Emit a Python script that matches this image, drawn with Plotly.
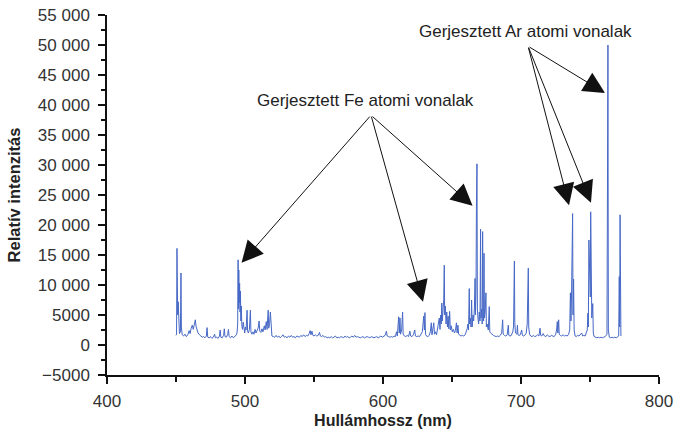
import plotly.graph_objects as go

# Spectrum data (wavelength in nm, relative intensity)
wavelength_nm = [
    450.0, 450.4, 450.7, 450.9, 451.2, 451.6, 452.0, 452.5, 453.2, 453.6, 453.9, 454.5,
    455.5, 456.5, 457.5, 458.5, 459.5, 460.2, 461.0, 461.8, 462.5, 463.3, 464.0, 464.6,
    465.3, 466.0, 467.0, 468.0, 469.0, 470.0, 471.0, 472.0, 472.5, 473.0, 474.0, 475.0,
    476.0, 477.0, 478.0, 478.5, 479.5, 480.5, 481.5, 482.0, 482.5, 483.5, 484.5, 485.0,
    485.5, 486.5, 487.5, 488.0, 488.5, 489.5, 490.5, 491.5, 492.5, 493.5, 494.2, 494.7,
    495.0, 495.2, 495.5, 495.8, 496.1, 496.4, 496.7, 497.0, 497.3, 497.7, 498.2, 498.7,
    499.2, 499.8, 500.3, 500.8, 501.5, 501.9, 502.5, 503.2, 503.9, 504.3, 505.0, 505.8,
    506.5, 507.3, 508.0, 508.8, 509.5, 510.2, 510.7, 511.5, 512.3, 513.0, 514.0, 514.6,
    515.4, 516.0, 516.8, 517.2, 517.8, 518.4, 518.9, 519.5, 520.5, 521.5, 522.5, 523.5,
    524.5, 525.5, 526.5, 527.5, 528.5, 529.5, 530.5, 531.5, 532.5, 533.5, 534.5, 535.5,
    536.5, 537.5, 538.5, 539.5, 540.5, 541.5, 542.5, 543.5, 544.5, 545.5, 546.5, 547.2,
    547.8, 548.5, 549.2, 550.0, 551.0, 552.0, 553.0, 554.0, 554.6, 555.5, 556.5, 557.5,
    558.5, 559.5, 560.5, 561.5, 562.5, 563.5, 564.5, 565.5, 566.5, 567.5, 568.5, 569.5,
    570.5, 571.5, 572.5, 573.5, 574.5, 575.5, 576.5, 577.5, 578.5, 579.5, 580.5, 581.5,
    582.5, 583.5, 584.5, 585.5, 586.5, 587.5, 588.5, 589.5, 590.5, 591.5, 592.5, 593.5,
    594.5, 595.5, 596.5, 597.5, 598.5, 599.5, 600.5, 601.5, 602.5, 603.0, 604.0, 605.0,
    606.0, 607.0, 608.0, 609.0, 609.8, 610.4, 611.0, 611.4, 611.8, 612.3, 612.7, 613.5,
    614.2, 614.6, 615.5, 616.5, 617.5, 618.5, 619.5, 620.0, 621.0, 622.0, 623.0, 623.5,
    624.5, 625.5, 626.5, 627.5, 628.5, 629.0, 629.5, 630.0, 630.4, 630.8, 631.5, 632.5,
    633.5, 634.3, 635.0, 635.5, 636.2, 636.8, 637.3, 638.0, 638.8, 639.5, 640.2, 640.8,
    641.3, 641.8, 642.3, 642.6, 643.0, 643.5, 644.0, 644.4, 644.7, 645.2, 645.7, 646.2,
    646.7, 647.2, 647.7, 648.3, 648.8, 649.5, 650.2, 651.0, 651.8, 652.5, 653.2, 653.7,
    654.3, 654.8, 655.5, 656.5, 657.5, 658.5, 659.5, 660.3, 661.0, 661.6, 662.0, 662.5,
    662.8, 663.3, 663.8, 664.2, 664.6, 665.2, 665.7, 666.2, 666.7, 667.0, 667.4, 667.7,
    667.9, 668.1, 668.4, 668.8, 669.3, 669.8, 670.3, 670.7, 671.0, 671.5, 671.9, 672.2,
    672.5, 672.9, 673.2, 673.5, 674.0, 674.6, 674.9, 675.5, 676.3, 677.0, 677.4, 678.0,
    679.0, 680.0, 681.0, 682.0, 683.0, 684.0, 685.0, 686.0, 686.7, 687.1, 688.0, 689.0,
    690.0, 690.8, 691.2, 692.0, 693.0, 694.0, 694.6, 695.0, 695.2, 695.5, 696.0, 697.0,
    697.4, 697.8, 698.5, 699.5, 700.5, 701.0, 702.0, 703.0, 703.8, 704.5, 705.0, 705.3,
    705.6, 706.2, 707.0, 708.0, 709.0, 710.0, 711.0, 712.0, 713.0, 713.8, 714.3, 715.0,
    716.0, 717.0, 718.0, 719.0, 720.0, 721.0, 722.0, 723.0, 724.0, 725.0, 725.8, 726.3,
    726.7, 727.3, 727.7, 728.5, 729.5, 730.5, 731.5, 732.5, 733.5, 734.5, 735.3, 735.8,
    736.2, 736.6, 737.0, 737.4, 737.7, 738.1, 738.5, 739.2, 740.0, 741.0, 742.0, 743.0,
    744.0, 744.6, 745.5, 746.5, 747.3, 748.0, 748.5, 748.8, 749.2, 749.5, 749.8, 750.2,
    750.5, 750.8, 751.3, 752.0, 752.4, 753.0, 754.0, 755.0, 756.0, 757.0, 758.0, 759.0,
    760.0, 761.0, 762.3, 762.7, 763.0, 763.3, 764.0, 765.0, 766.0, 767.0, 768.0, 769.0,
    770.0, 770.8, 771.2, 771.5, 771.8, 772.1, 772.4,
]

intensity = [
    1600, 1800, 16100, 7500, 5000, 7200, 2500, 1900, 2200, 12000, 3000, 1700,
    1500, 1800, 1400, 1700, 2400, 1900, 2800, 3300, 2600, 3800, 4200, 3000,
    2500, 2000, 1700, 1500, 1300, 1400, 1200, 1500, 2900, 1300, 1200, 1400,
    1100, 1300, 1800, 1200, 1300, 1100, 1500, 2500, 1300, 1200, 1600, 2700,
    1400, 1300, 1800, 2600, 1400, 1200, 1500, 1200, 1400, 1600, 2000, 3500,
    14200, 6000, 12500, 7000, 10300, 5500, 9000, 4000, 6500, 3200, 2600, 3800,
    2200, 2000, 3000, 2500, 5800, 2300, 2000, 2600, 5800, 2200, 1800, 2200,
    1800, 2600, 2000, 2400, 2800, 4000, 2300, 2100, 2700, 2200, 3200, 2500,
    3900, 2600, 5800, 2800, 3600, 5500, 2000, 1500, 1400, 1300, 1600, 1300,
    1500, 1200, 1400, 1700, 1300, 1400, 1200, 1500, 1300, 1600, 1300, 1400,
    1200, 1500, 1400, 1300, 1600, 1400, 1700, 1400, 1600, 1500, 1900, 2400,
    1700, 2300, 1600, 1500, 1700, 1500, 1600, 2100, 1500, 1400, 1600, 1300,
    1400, 1200, 1300, 1200, 1400, 1200, 1300, 1500, 1200, 1300, 1200, 1400,
    1300, 1200, 1500, 1300, 1400, 1200, 1300, 1500, 1300, 1600, 1300, 1400,
    1300, 1200, 1300, 1400, 1200, 1300, 1400, 1300, 1200, 1400, 1300, 1200,
    1300, 1400, 1200, 1300, 1500, 1300, 1400, 1600, 2300, 1500, 1400, 1300,
    1400, 1300, 1500, 1400, 2200, 1500, 3600, 4700, 2000, 4500, 1800, 2500,
    5500, 1800, 1500, 1400, 1600, 1400, 2300, 1500, 1400, 1700, 2500, 1500,
    1400, 1500, 1400, 1700, 2200, 3500, 4800, 2500, 5400, 1800, 1500, 1400,
    1600, 2200, 3700, 1700, 2500, 3700, 1800, 2200, 1700, 2800, 3200, 4500,
    2600, 5000, 3500, 7000, 4000, 5500, 7500, 13300, 5000, 6500, 3500, 5500,
    3000, 4800, 2700, 5600, 2500, 3200, 2200, 2600, 2000, 2400, 3700, 2000,
    3300, 1800, 1600, 1500, 1600, 1500, 1700, 2200, 2700, 3500, 2500, 9400,
    3500, 4500, 3000, 7500, 3000, 5000, 4000, 6000, 11100, 5000, 9000, 22800,
    8000, 30200, 6000, 4500, 3500, 5500, 4000, 19300, 4500, 6000, 3500, 18900,
    5000, 4000, 15300, 4500, 5500, 8700, 3000, 3500, 2500, 6400, 2200, 2000,
    1700, 1600, 1500, 1400, 1500, 1400, 1600, 2000, 4200, 1800, 1600, 1500,
    1700, 3300, 1600, 1500, 1600, 2200, 3000, 8900, 14000, 3800, 2000, 1800,
    3300, 1700, 1600, 1700, 2500, 1600, 1500, 1700, 2000, 3500, 10500, 12800,
    3000, 1800, 1500, 1400, 1600, 1400, 1500, 1700, 1500, 2800, 1600, 1500,
    1900, 1500, 1400, 1700, 1500, 1400, 1600, 1500, 1400, 1700, 2500, 3900,
    2000, 4200, 1800, 1600, 1500, 1700, 1500, 1600, 1500, 1800, 2500, 8700,
    4000, 8000, 12200, 21900, 5000, 11000, 2500, 1500, 1400, 1600, 1500, 1700,
    2000, 1500, 1600, 1500, 2000, 2500, 5300, 3000, 17500, 13000, 16500, 8000,
    22200, 5000, 4500, 6900, 2000, 1400, 1300, 1200, 1300, 1200, 1300, 1200,
    1300, 1400, 1800, 36400, 50000, 2500, 1300, 1200, 1300, 1200, 1300, 1200,
    1300, 1500, 11400, 3000, 21700, 11000, 1500,
]

y_tick_values = [-5000, 0, 5000, 10000, 15000, 20000, 25000, 30000, 35000, 40000, 45000, 50000, 55000]
y_tick_labels = ["\u22125000", "0", "5000", "10\u00a0000", "15\u00a0000", "20\u00a0000", "25\u00a0000",
                 "30\u00a0000", "35\u00a0000", "40\u00a0000", "45\u00a0000", "50\u00a0000", "55\u00a0000"]
x_tick_values = [400, 500, 600, 700, 800]

label_fe = "Gerjesztett Fe atomi vonalak"
label_ar = "Gerjesztett Ar atomi vonalak"
# (tip_x, tip_y, tail_x, tail_y) in data coordinates
fe_arrows = [(497.5, 13700, 591.3, 38300), (629.0, 7200, 591.3, 38300), (664.9, 23200, 591.3, 38300)]
ar_arrows = [(760.9, 42000, 705.1, 49800), (734.8, 23300, 705.1, 49800), (750.7, 23700, 705.1, 49800)]

FONT = "Liberation Sans, Arial, sans-serif"

fig = go.Figure()
fig.add_trace(go.Scatter(
    x=wavelength_nm, y=intensity, mode="lines",
    line=dict(color="#4668c6", width=1), showlegend=False, hoverinfo="skip",
))

annotations = []
for tx, ty, ax_, ay_ in fe_arrows + ar_arrows:
    annotations.append(dict(
        x=tx, y=ty, ax=ax_, ay=ay_, xref="x", yref="y", axref="x", ayref="y",
        text="", showarrow=True, arrowhead=2, arrowsize=4.3, arrowwidth=1,
        arrowcolor="#111111", standoff=0, startstandoff=0,
    ))
annotations.append(dict(x=587.0, y=40700, xref="x", yref="y", text=label_fe, showarrow=False,
                        font=dict(size=17, color="#222222", family=FONT)))
annotations.append(dict(x=702.9, y=52200, xref="x", yref="y", text=label_ar, showarrow=False,
                        font=dict(size=17, color="#222222", family=FONT)))

fig.update_layout(
    width=680, height=435,
    margin=dict(l=107, r=21, t=15, b=60),
    paper_bgcolor="white", plot_bgcolor="white",
    font=dict(family=FONT, size=17, color="#333333"),
    annotations=annotations,
    xaxis=dict(
        range=[400, 800], tickvals=x_tick_values, ticks="outside", ticklen=7, tickwidth=1.5,
        tickcolor="#111111", showline=True, linecolor="#111111", linewidth=1.5,
        showgrid=False, zeroline=False, ticklabelstandoff=3, automargin=False,
        minor=dict(dtick=50, ticks="outside", ticklen=5, tickwidth=1.5, tickcolor="#111111", showgrid=False),
        title=dict(text="<b>Hullámhossz (nm)</b>", font=dict(size=16, color="#222222"), standoff=5),
    ),
    yaxis=dict(
        range=[-5000, 55000], tickvals=y_tick_values, ticktext=y_tick_labels,
        ticks="outside", ticklen=7, tickwidth=1.5, tickcolor="#111111",
        showline=True, linecolor="#111111", linewidth=1.5, showgrid=False, zeroline=False,
        ticklabelstandoff=5, automargin=False,
        minor=dict(dtick=2500, tick0=0, ticks="outside", ticklen=4, tickwidth=1.5, tickcolor="#111111", showgrid=False),
        title=dict(text="<b>Relatív intenzitás</b>", font=dict(size=16.5, color="#222222"), standoff=13),
    ),
)

fig.write_html("out.html")
